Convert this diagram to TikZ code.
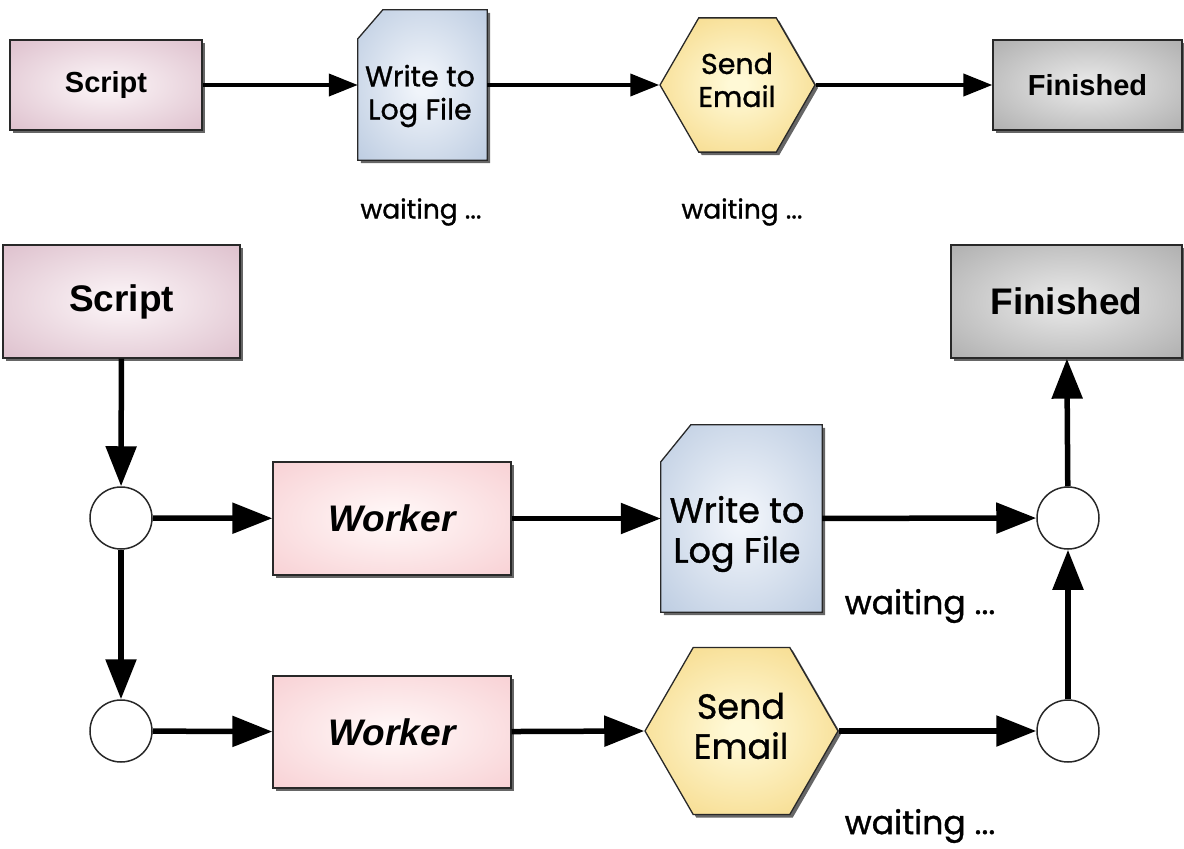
\documentclass[tikz,border=0pt]{standalone}
\usepackage{fontspec}
\setmainfont{Liberation Sans}
\newfontfamily\handfont[FakeBold=1]{Poppins}
\usetikzlibrary{arrows.meta,shapes.geometric,shadows}
\pgfdeclarelayer{background}
\pgfsetlayers{background,main}
\definecolor{scriptin}{RGB}{250,242,245}
\definecolor{scriptout}{RGB}{218,186,200}
\definecolor{workin}{RGB}{255,246,246}
\definecolor{workout}{RGB}{247,204,208}
\definecolor{docin}{RGB}{240,244,250}
\definecolor{docout}{RGB}{182,199,222}
\definecolor{hexin}{RGB}{255,249,214}
\definecolor{hexout}{RGB}{245,214,128}
\definecolor{finin}{RGB}{230,230,230}
\definecolor{finout}{RGB}{168,168,168}
\definecolor{edge}{RGB}{40,40,40}
\pgfdeclareradialshading{scriptshade}{\pgfpoint{0bp}{0bp}}{color(0bp)=(scriptin); color(3bp)=(scriptin); color(40bp)=(scriptout); color(50bp)=(scriptout)}
\pgfdeclareradialshading{workshade}{\pgfpoint{0bp}{0bp}}{color(0bp)=(workin); color(3bp)=(workin); color(40bp)=(workout); color(50bp)=(workout)}
\pgfdeclareradialshading{docshade}{\pgfpoint{0bp}{0bp}}{color(0bp)=(docin); color(3bp)=(docin); color(40bp)=(docout); color(50bp)=(docout)}
\pgfdeclareradialshading{hexshade}{\pgfpoint{0bp}{0bp}}{color(0bp)=(hexin); color(3bp)=(hexin); color(36bp)=(hexout); color(50bp)=(hexout)}
\pgfdeclareradialshading{finshade}{\pgfpoint{0bp}{0bp}}{color(0bp)=(finin); color(3bp)=(finin); color(40bp)=(finout); color(50bp)=(finout)}
\tikzset{
  shad/.style={drop shadow={shadow xshift=3pt,shadow yshift=-3pt,fill=black!60,opacity=1}},
  box/.style={rectangle,draw=edge,line width=1.3pt,shad,inner sep=0pt},
  scriptbox/.style={box,shade,shading=scriptshade},
  workbox/.style={box,shade,shading=workshade},
  finbox/.style={box,shade,shading=finshade},
  hexbox/.style={regular polygon,regular polygon sides=6,draw=edge,line width=1.3pt,shad,inner sep=0pt,shade,shading=hexshade},
  docnode/.style={rectangle,inner sep=0pt},
  docfill/.style={draw=edge,line width=1.3pt,shade,shading=docshade},
  docshadow/.style={fill=black!60},
  junction/.style={circle,draw=edge,line width=1.5pt,fill=white,minimum size=62pt,inner sep=0pt},
  arr/.style={line width=4pt,-{Triangle[length=29pt,width=22pt]}},
  arrb/.style={line width=5.5pt,-{Triangle[length=40pt,width=30pt]}},
  small/.style={font=\fontsize{29}{33}\selectfont\bfseries},
  big/.style={font=\fontsize{37}{42}\selectfont\bfseries},
  bigit/.style={font=\fontsize{37}{42}\selectfont\bfseries\itshape},
  handsmall/.style={font=\handfont\fontsize{28.5}{33}\selectfont,align=center,inner sep=0pt},
  handbig/.style={font=\handfont\fontsize{35}{40}\selectfont,align=center,inner sep=0pt},
  waitsmall/.style={font=\handfont\fontsize{26.5}{30}\selectfont},
  waitbig/.style={font=\handfont\fontsize{33}{36}\selectfont},
}
\begin{document}
\begin{tikzpicture}[x=1pt,y=-1pt]
\useasboundingbox (0,0) rectangle (1184,849);
% ---------- top row ----------
\node[scriptbox,small,minimum width=192pt,minimum height=90pt] (s1) at (106,85) {Script};
\node[docnode,minimum width=129pt,minimum height=150pt] (d1) at (422.5,85) {};
\begin{pgfonlayer}{background}
\path[docshadow] ([shift={(28pt,-3pt)}]d1.north west) -- ([shift={(3pt,-3pt)}]d1.north east) -- ([shift={(3pt,-3pt)}]d1.south east) -- ([shift={(3pt,-3pt)}]d1.south west) -- ([shift={(3pt,-32pt)}]d1.north west) -- cycle;
\path[docfill] ([xshift=25pt]d1.north west) -- (d1.north east) -- (d1.south east) -- (d1.south west) -- ([yshift=-29pt]d1.north west) -- cycle;
\end{pgfonlayer}
\node[handsmall] (d1t) at (420,96) {Write to\\Log File};
\node[hexbox,minimum size=155pt] (h1) at (737.5,85) {};
\node[handsmall] (h1t) at (737,80) {Send\\Email};
\node[finbox,small,minimum width=189pt,minimum height=90pt] (f1) at (1087.5,85) {Finished};
\draw[arr] (s1) -- (d1);
\draw[arr] (d1) -- (h1);
\draw[arr] (h1) -- (f1);
\node[waitsmall] (w1) at (421,212) {waiting ...};
\node[waitsmall] (w2) at (742,212) {waiting ...};
% ---------- bottom ----------
\node[scriptbox,big,minimum width=237pt,minimum height=113pt] (s2) at (121.5,301.5) {Script};
\node[finbox,big,minimum width=231pt,minimum height=113pt] (f2) at (1066.5,301.5) {Finished};
\node[junction] (c1) at (121,518) {};
\node[junction] (c2) at (121,731) {};
\node[junction] (c3) at (1068,518) {};
\node[junction] (c4) at (1068,731) {};
\node[workbox,bigit,minimum width=238pt,minimum height=113pt] (k1) at (392,518.5) {Worker};
\node[workbox,bigit,minimum width=238pt,minimum height=112pt] (k2) at (392,732) {Worker};
\node[docnode,minimum width=161pt,minimum height=187pt] (d2) at (741.5,518.5) {};
\begin{pgfonlayer}{background}
\path[docshadow] ([shift={(33pt,-3pt)}]d2.north west) -- ([shift={(3pt,-3pt)}]d2.north east) -- ([shift={(3pt,-3pt)}]d2.south east) -- ([shift={(3pt,-3pt)}]d2.south west) -- ([shift={(3pt,-40pt)}]d2.north west) -- cycle;
\path[docfill] ([xshift=30pt]d2.north west) -- (d2.north east) -- (d2.south east) -- (d2.south west) -- ([yshift=-37pt]d2.north west) -- cycle;
\end{pgfonlayer}
\node[handbig] (d2t) at (737,534) {Write to\\Log File};
\node[hexbox,minimum size=193pt] (h2) at (741.5,731) {};
\node[handbig] (h2t) at (741,726) {Send\\Email};
\draw[arrb] (s2) -- (c1);
\draw[arrb] (c1) -- (c2);
\draw[arrb] (c1) -- (k1);
\draw[arrb] (c2) -- (k2);
\draw[arrb] (k1) -- (d2);
\draw[arrb] (k2) -- (h2.west);
\draw[arrb] (d2) -- (c3);
\draw[arrb] (h2.east) -- (c4);
\draw[arrb] (c4) -- (c3);
\draw[arrb] (c3) -- (f2);
\node[waitbig] (w3) at (920,606) {waiting ...};
\node[waitbig] (w4) at (920,826) {waiting ...};
\end{tikzpicture}
\end{document}
